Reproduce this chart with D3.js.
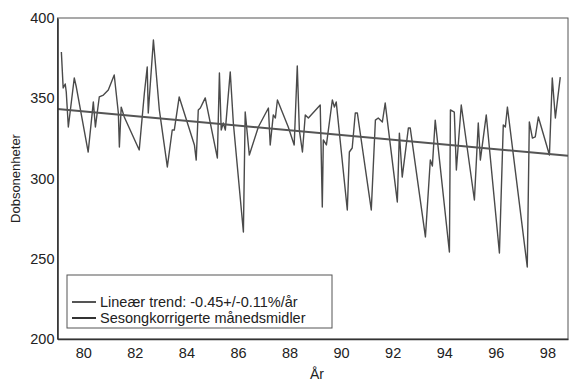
<!DOCTYPE html>
<html>
<head>
<meta charset="utf-8">
<script src="https://cdn.jsdelivr.net/npm/d3@7"></script>
<style>
body { margin: 0; background: #fff; }
text { font-family: "Liberation Sans", Arial, sans-serif; }
</style>
</head>
<body>
<script>
// ozone monthly means (season corrected)
var years = [79.15, 79.22, 79.30, 79.34, 79.42, 79.65, 79.73, 80.19, 80.39, 80.47,
	80.62, 80.78, 80.97, 81.20, 81.36, 81.40, 81.47, 81.59, 82.17, 82.37,
	82.48, 82.52, 82.72, 82.95, 83.26, 83.45, 83.53, 83.72, 84.31, 84.38,
	84.46, 84.54, 84.73, 85.20, 85.28, 85.35, 85.43, 85.51, 85.70, 85.82,
	86.21, 86.28, 86.44, 86.79, 87.18, 87.25, 87.37, 87.45, 87.53, 87.95,
	88.18, 88.30, 88.38, 88.50, 88.61, 88.73, 89.19, 89.27, 89.31, 89.43,
	89.66, 89.74, 89.81, 90.24, 90.32, 90.43, 90.55, 90.63, 91.17, 91.33,
	91.44, 91.60, 91.71, 92.18, 92.26, 92.37, 92.61, 92.68, 93.27, 93.46,
	93.54, 93.65, 94.20, 94.24, 94.39, 94.47, 94.66, 95.17, 95.32, 95.40,
	95.63, 96.14, 96.29, 96.37, 96.45, 97.22, 97.30, 97.42, 97.53, 97.65,
	98.08, 98.19, 98.31, 98.50];
var values = [378.8, 356.4, 358.9, 353.9, 332.1, 362.6, 357.0, 316.5, 347.7, 332.1,
	350.8, 352.0, 355.1, 364.5, 340.8, 319.6, 344.5, 338.3, 317.8, 353.3,
	369.5, 340.8, 386.3, 342.7, 307.2, 330.2, 330.2, 350.8, 320.9, 311.5,
	342.7, 343.9, 350.2, 312.8, 365.7, 330.2, 334.6, 330.2, 366.4, 334.6,
	266.7, 341.4, 314.6, 332.1, 343.9, 320.9, 339.6, 337.7, 348.9, 332.1,
	320.9, 370.1, 330.2, 316.5, 339.6, 337.7, 345.8, 282.2, 324.0, 320.9,
	348.9, 344.5, 347.7, 280.4, 316.5, 319.0, 340.8, 340.8, 280.4, 336.4,
	337.7, 335.2, 347.0, 285.4, 328.3, 300.9, 331.5, 331.5, 263.6, 311.5,
	307.8, 336.4, 254.2, 342.7, 341.4, 305.3, 345.8, 286.6, 334.6, 311.5,
	339.6, 253.6, 333.3, 332.1, 344.5, 244.9, 335.2, 325.2, 325.9, 338.3,
	314.6, 362.6, 337.7, 363.2];

// linear trend end points
var trendYears = [79.0, 98.8];
var trendValues = [343.3, 314.2];

var xTicks = [80, 82, 84, 86, 88, 90, 92, 94, 96, 98];
var yTicks = [200, 250, 300, 350, 400];
var legendLabels = ["Lineær trend: -0.45+/-0.11%/år", "Sesongkorrigerte månedsmidler"];

var width = 571, height = 382;
var margin = {top: 18, right: 3, bottom: 43, left: 58};

var svg = d3.select("body").append("svg")
	.attr("width", width)
	.attr("height", height);

var x = d3.scaleLinear()
	.domain([79.0, 98.8])
	.range([margin.left - 0.5, width - margin.right]);
var y = d3.scaleLinear()
	.domain([200, 400])
	.range([height - margin.bottom, margin.top]);

var line = d3.line()
	.x(function(d) { return x(d[0]); })
	.y(function(d) { return y(d[1]); });

var series = years.map(function(yr, i) { return [yr, values[i]]; });
var trend = trendYears.map(function(yr, i) { return [yr, trendValues[i]]; });

svg.append("path")
	.datum(series)
	.attr("fill", "none")
	.attr("stroke", "#4a4a4a")
	.attr("stroke-width", 1.4)
	.attr("stroke-linejoin", "round")
	.attr("d", line);

svg.append("path")
	.datum(trend)
	.attr("fill", "none")
	.attr("stroke", "#555")
	.attr("stroke-width", 2)
	.attr("d", line);

// frame
svg.append("rect")
	.attr("x", x.range()[0])
	.attr("y", y.range()[1])
	.attr("width", x.range()[1] - x.range()[0])
	.attr("height", y.range()[0] - y.range()[1])
	.attr("fill", "none")
	.attr("stroke", "#555")
	.attr("stroke-width", 1);

var xAxis = svg.append("g")
	.attr("transform", "translate(0," + y.range()[0] + ")")
	.call(d3.axisBottom(x).tickValues(xTicks).tickSize(0).tickPadding(9));
var yAxis = svg.append("g")
	.attr("transform", "translate(" + x.range()[0] + ",0)")
	.call(d3.axisLeft(y).tickValues(yTicks).tickSize(0).tickPadding(3));

[xAxis, yAxis].forEach(function(g) {
	g.select(".domain").attr("stroke", "#333").attr("stroke-width", 1.6);
	g.selectAll("text")
		.attr("fill", "#222")
		.style("font-size", "14.5px")
		.style("font-family", "'Liberation Sans', Arial, sans-serif");
});

svg.append("text")
	.attr("transform", "translate(20," + (y(300)) + ") rotate(-90)")
	.attr("text-anchor", "middle")
	.attr("fill", "#222")
	.style("font-size", "13px")
	.text("Dobsonenheter");

svg.append("text")
	.attr("x", 317)
	.attr("y", 379)
	.attr("text-anchor", "middle")
	.attr("fill", "#222")
	.style("font-size", "14px")
	.text("År");

// legend
var legend = svg.append("g");
legend.append("rect")
	.attr("x", 67)
	.attr("y", 275)
	.attr("width", 265)
	.attr("height", 53)
	.attr("fill", "#fff")
	.attr("stroke", "#555")
	.attr("stroke-width", 1);

var items = legend.selectAll("g.item")
	.data(legendLabels)
	.enter().append("g")
	.attr("class", "item")
	.attr("transform", function(d, i) { return "translate(72," + (302 + 16 * i) + ")"; });

items.append("line")
	.attr("x1", 0)
	.attr("x2", 24)
	.attr("stroke", function(d, i) { return i == 0 ? "#555" : "#333"; })
	.attr("stroke-width", 2);

items.append("text")
	.attr("x", 28)
	.attr("y", 5)
	.attr("fill", "#222")
	.style("font-size", "14.5px")
	.text(function(d) { return d; });
</script>
</body>
</html>
